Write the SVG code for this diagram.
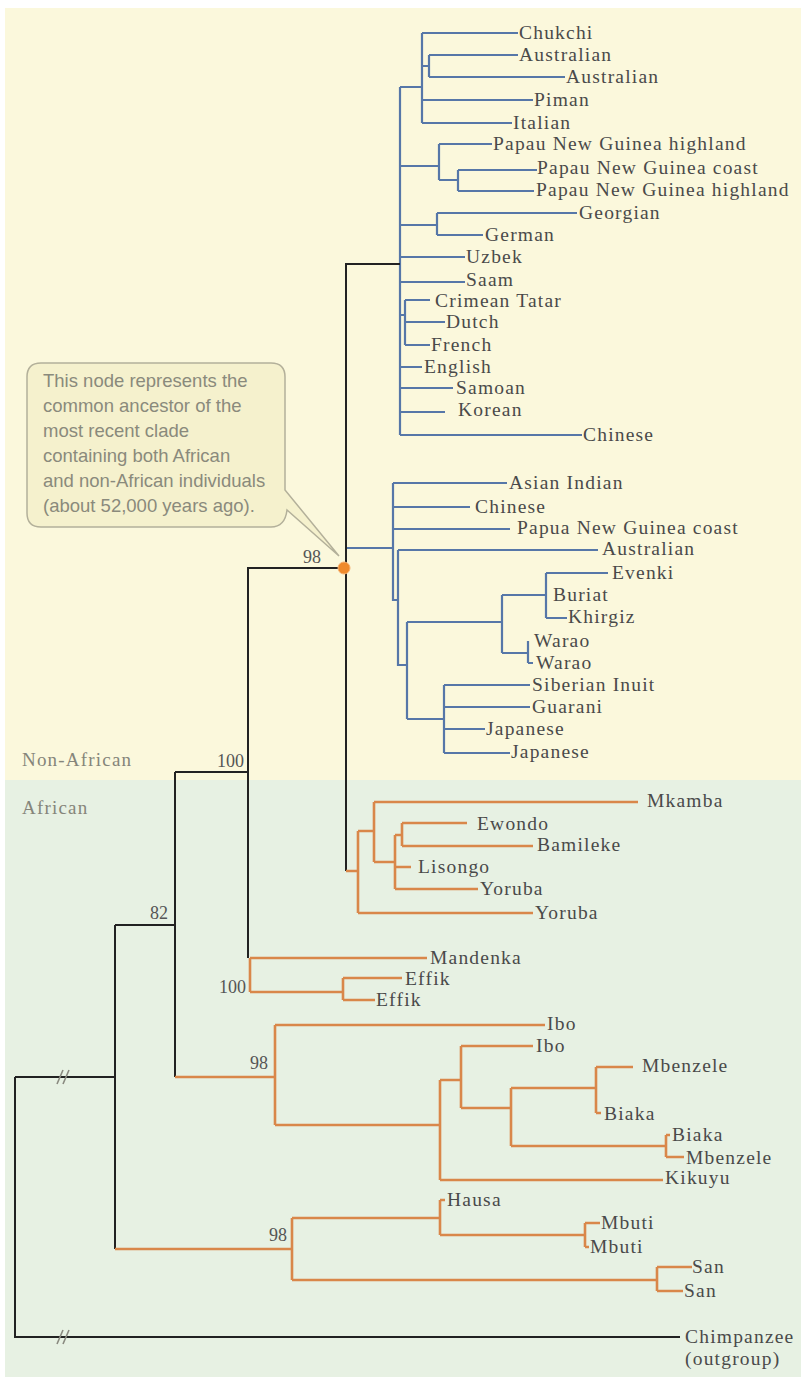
<svg xmlns="http://www.w3.org/2000/svg" width="801" height="1380" viewBox="0 0 801 1380">
<style>
.b{fill:none;stroke:#5677a8;stroke-width:2.2}
.o{fill:none;stroke:#d9874a;stroke-width:2.6}
.k{fill:none;stroke:#222;stroke-width:2}
.brk{fill:none;stroke:#8a8a80;stroke-width:1.6}
.t{font-family:"Liberation Serif","Times New Roman",serif;font-size:19.5px;letter-spacing:1.2px;fill:#4a4a4a}
.n{font-family:"Liberation Serif","Times New Roman",serif;font-size:18px;fill:#555;text-anchor:end}
.g{font-family:"Liberation Serif","Times New Roman",serif;font-size:19px;letter-spacing:1.2px;fill:#85857a}
.c{font-family:"Liberation Sans",Arial,sans-serif;font-size:18.5px;fill:#8a8a7c}
</style>
<rect x="0" y="0" width="801" height="1380" fill="#ffffff"/>
<rect x="5" y="8" width="796" height="772" fill="#fbf8dc"/>
<rect x="5" y="780" width="796" height="597" fill="#e7f1e3"/>

<g id="connectors">
<path class="b" d="M400,87V435M400,87H422M422,33V123M422,33H518M422,66H429M429,55V77M429,55H518M429,77H565M422,100H533M422,123H512"/>
<path class="b" d="M400,166H439M439,144V180M439,144H492M439,180H458M458,170V191M458,170H537M458,191H534"/>
<path class="b" d="M400,225H437M437,213V235M437,213H577M437,235H483M400,257H465M400,282H465"/>
<path class="b" d="M400,315H405M405,300V345M405,300H430M405,322H445M405,345H430M400,367H422M400,388H453M400,412H445M400,435H582"/>
<path class="b" d="M346,548H393M393,483V600H398M393,483H507M393,507H470M393,529H510M398,550V665H407M398,550H598"/>
<path class="b" d="M407,622V719M407,622H502M502,595V653M502,595H546M546,573V618M546,573H608M546,618H567M502,653H528M528,641V663M528,663H533"/>
<path class="b" d="M407,719H444M444,685V753M444,685H530M444,707H530M444,729H485M444,753H510"/>
<path class="k" d="M346,871V264H400"/>
<path class="k" d="M344,568H248V958"/>
<path class="k" d="M175,772H248M175,772V1077M115,925H175M115,925V1249M15,1077H115M15,1077V1337H680"/>
<path class="o" d="M346,871H358M358,831V913M358,913H533M358,831H374M374,802V862M374,802H638M374,862H395M395,835V889M395,835H402M402,823V846M402,823H467M402,846H533M395,867H411M395,889H478"/>
<path class="o" d="M250,958V992M250,958H427M250,992H343M343,978V1000M343,978H402M343,1000H375"/>
<path class="o" d="M175,1077H275M275,1025V1125M275,1025H545M275,1125H440M440,1080V1180M440,1180H663M440,1080H461M461,1046V1108M461,1046H533M461,1108H511M511,1088V1146M511,1088H596M596,1067V1113M596,1067H633M596,1113H601M511,1146H666M666,1135V1157M666,1135H670M666,1157H684"/>
<path class="o" d="M115,1249H292M292,1218V1280M292,1218H440M440,1200V1235M440,1200H445M440,1235H585M585,1223V1247M585,1223H600M585,1247H589M292,1280H657M657,1267V1291M657,1267H692M657,1291H683"/>
<path class="brk" d="M57,1084L63,1070M63,1084L69,1070M57,1344L63,1330M63,1344L69,1330"/>
</g>

<g id="callout">
<path d="M41,363H271Q285,363 285,377V490L339,556L287,510Q285,527 271,527H41Q27,527 27,513V377Q27,363 41,363Z" fill="#f5f1cd" stroke="#b3b09a" stroke-width="1.5"/>
<text class="c" x="43" y="387">This node represents the</text>
<text class="c" x="43" y="412">common ancestor of the</text>
<text class="c" x="43" y="437">most recent clade</text>
<text class="c" x="43" y="462">containing both African</text>
<text class="c" x="43" y="487">and non-African individuals</text>
<text class="c" x="43" y="512">(about 52,000 years ago).</text>
</g>

<g id="node-ancestor"><circle cx="344" cy="568" r="6" fill="#ef8a2c" stroke="#f6b070" stroke-width="1"/></g>

<g id="support">
<text class="n" x="321" y="563">98</text>
<text class="n" x="244" y="767">100</text>
<text class="n" x="168" y="919">82</text>
<text class="n" x="246" y="993">100</text>
<text class="n" x="268" y="1069">98</text>
<text class="n" x="287" y="1241">98</text>
</g>

<g id="regions">
<text class="g" x="22" y="766">Non-African</text>
<text class="g" x="22" y="814">African</text>
</g>

<g id="leaves">
<g id="chukchi"><text class="t" x="519" y="39">Chukchi</text></g>
<g id="australian1"><text class="t" x="519" y="61">Australian</text></g>
<g id="australian2"><text class="t" x="566" y="83">Australian</text></g>
<g id="piman"><text class="t" x="534" y="106">Piman</text></g>
<g id="italian"><text class="t" x="513" y="129">Italian</text></g>
<g id="png-highland1"><text class="t" x="493" y="150">Papau New Guinea highland</text></g>
<g id="png-coast1"><text class="t" x="537" y="174">Papau New Guinea coast</text></g>
<g id="png-highland2"><text class="t" x="536" y="196">Papau New Guinea highland</text></g>
<g id="georgian"><text class="t" x="579" y="219">Georgian</text></g>
<g id="german"><text class="t" x="485" y="241">German</text></g>
<g id="uzbek"><text class="t" x="466" y="263">Uzbek</text></g>
<g id="saam"><text class="t" x="466" y="286">Saam</text></g>
<g id="crimean-tatar"><text class="t" x="435" y="307">Crimean Tatar</text></g>
<g id="dutch"><text class="t" x="446" y="328">Dutch</text></g>
<g id="french"><text class="t" x="431" y="351">French</text></g>
<g id="english"><text class="t" x="424" y="373">English</text></g>
<g id="samoan"><text class="t" x="456" y="394">Samoan</text></g>
<g id="korean"><text class="t" x="458" y="416">Korean</text></g>
<g id="chinese1"><text class="t" x="583" y="441">Chinese</text></g>
<g id="asian-indian"><text class="t" x="509" y="489">Asian Indian</text></g>
<g id="chinese2"><text class="t" x="475" y="513">Chinese</text></g>
<g id="png-coast2"><text class="t" x="517" y="534">Papua New Guinea coast</text></g>
<g id="australian3"><text class="t" x="602" y="555">Australian</text></g>
<g id="evenki"><text class="t" x="612" y="579">Evenki</text></g>
<g id="buriat"><text class="t" x="553" y="601">Buriat</text></g>
<g id="khirgiz"><text class="t" x="568" y="623">Khirgiz</text></g>
<g id="warao1"><text class="t" x="534" y="647">Warao</text></g>
<g id="warao2"><text class="t" x="536" y="669">Warao</text></g>
<g id="siberian-inuit"><text class="t" x="532" y="691">Siberian Inuit</text></g>
<g id="guarani"><text class="t" x="532" y="713">Guarani</text></g>
<g id="japanese1"><text class="t" x="486" y="735">Japanese</text></g>
<g id="japanese2"><text class="t" x="511" y="758">Japanese</text></g>
<g id="mkamba"><text class="t" x="647" y="807">Mkamba</text></g>
<g id="ewondo"><text class="t" x="477" y="830">Ewondo</text></g>
<g id="bamileke"><text class="t" x="537" y="851">Bamileke</text></g>
<g id="lisongo"><text class="t" x="418" y="873">Lisongo</text></g>
<g id="yoruba1"><text class="t" x="480" y="895">Yoruba</text></g>
<g id="yoruba2"><text class="t" x="535" y="919">Yoruba</text></g>
<g id="mandenka"><text class="t" x="430" y="964">Mandenka</text></g>
<g id="effik1"><text class="t" x="405" y="985">Effik</text></g>
<g id="effik2"><text class="t" x="376" y="1006">Effik</text></g>
<g id="ibo1"><text class="t" x="547" y="1030">Ibo</text></g>
<g id="ibo2"><text class="t" x="536" y="1052">Ibo</text></g>
<g id="mbenzele1"><text class="t" x="642" y="1072">Mbenzele</text></g>
<g id="biaka1"><text class="t" x="604" y="1120">Biaka</text></g>
<g id="biaka2"><text class="t" x="672" y="1141">Biaka</text></g>
<g id="mbenzele2"><text class="t" x="686" y="1164">Mbenzele</text></g>
<g id="kikuyu"><text class="t" x="665" y="1184">Kikuyu</text></g>
<g id="hausa"><text class="t" x="447" y="1206">Hausa</text></g>
<g id="mbuti1"><text class="t" x="601" y="1229">Mbuti</text></g>
<g id="mbuti2"><text class="t" x="590" y="1253">Mbuti</text></g>
<g id="san1"><text class="t" x="692" y="1273">San</text></g>
<g id="san2"><text class="t" x="684" y="1297">San</text></g>
<g id="chimpanzee"><text class="t" x="685" y="1343">Chimpanzee</text><text class="t" x="685" y="1365">(outgroup)</text></g>
</g>
</svg>
